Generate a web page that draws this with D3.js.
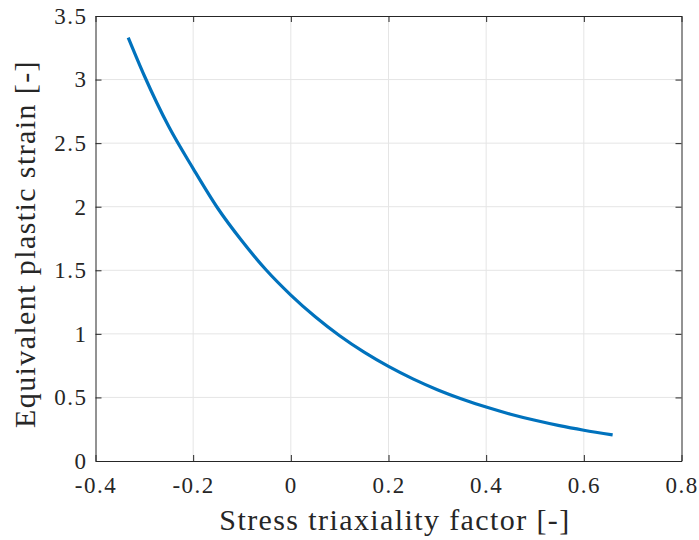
<!DOCTYPE html>
<html>
<head>
<meta charset="utf-8">
<script src="https://cdn.jsdelivr.net/npm/d3@7"></script>
<style>
  body { margin: 0; background: #fff; }
</style>
</head>
<body>
<div id="chart"></div>
<script>
// stress triaxiality values (x) and equivalent plastic strain (y)
const triax = [-0.333, -0.30, -0.25, -0.20, -0.15, -0.10, -0.05, 0, 0.05, 0.10, 0.15,
               0.20, 0.25, 0.30, 0.35, 0.40, 0.45, 0.50, 0.55, 0.60, 0.659];
const strain = [3.33, 3.03, 2.63, 2.30, 1.99, 1.73, 1.50, 1.305, 1.134, 0.985, 0.856,
                0.744, 0.646, 0.561, 0.488, 0.424, 0.368, 0.320, 0.278, 0.242, 0.205];
const xTicks = [-0.4, -0.2, 0, 0.2, 0.4, 0.6, 0.8];
const yTicks = [0, 0.5, 1, 1.5, 2, 2.5, 3, 3.5];

const width = 699, height = 540;
const margin = {top: 16, right: 17.5, bottom: 79, left: 95.5};
const font = "Liberation Serif, serif";

const xScale = d3.scaleLinear()
    .domain([-0.4, 0.8])
    .range([margin.left, width - margin.right]);

const yScale = d3.scaleLinear()
    .domain([0, 3.5])
    .range([height - margin.bottom, margin.top]);

const svg = d3.select("#chart")
    .append("svg")
    .attr("width", width)
    .attr("height", height);

// plain hyphen like matlab, not the unicode minus
const fmt = d => String(d);

// grid
svg.append("g")
    .selectAll("line")
    .data(xTicks.slice(1, -1))
    .join("line")
    .attr("x1", d => xScale(d)).attr("x2", d => xScale(d))
    .attr("y1", margin.top).attr("y2", height - margin.bottom)
    .attr("stroke", "#e5e5e5").attr("stroke-width", 1);

svg.append("g")
    .selectAll("line")
    .data(yTicks.slice(1, -1))
    .join("line")
    .attr("x1", margin.left).attr("x2", width - margin.right)
    .attr("y1", d => yScale(d)).attr("y2", d => yScale(d))
    .attr("stroke", "#e5e5e5").attr("stroke-width", 1);

// axes (box on, ticks inside)
const xAxis = svg.append("g")
    .attr("transform", `translate(0,${height - margin.bottom})`)
    .call(d3.axisBottom(xScale).tickValues(xTicks).tickFormat(fmt).tickSizeInner(-6).tickSizeOuter(0).tickPadding(16));

const xTop = svg.append("g")
    .attr("transform", `translate(0,${margin.top})`)
    .call(d3.axisTop(xScale).tickValues(xTicks).tickFormat("").tickSizeInner(-6).tickSizeOuter(0));

const yAxis = svg.append("g")
    .attr("transform", `translate(${margin.left},0)`)
    .call(d3.axisLeft(yScale).tickValues(yTicks).tickFormat(fmt).tickSizeInner(-6).tickSizeOuter(0).tickPadding(8));

const yRight = svg.append("g")
    .attr("transform", `translate(${width - margin.right},0)`)
    .call(d3.axisRight(yScale).tickValues(yTicks).tickFormat("").tickSizeInner(-6).tickSizeOuter(0));

[xAxis, xTop, yAxis, yRight].forEach(g => {
    g.attr("font-family", font).attr("font-size", 23);
    g.select(".domain").attr("stroke", "#262626").attr("stroke-width", 1);
    g.selectAll(".tick line").attr("stroke", "#262626");
    g.selectAll(".tick text").attr("fill", "#262626").attr("letter-spacing", 1.5);
});
xAxis.selectAll(".tick text").attr("dy", "0.71em");

// curve
const line = d3.line()
    .x((d, i) => xScale(triax[i]))
    .y(d => yScale(d))
    .curve(d3.curveMonotoneX);

svg.append("path")
    .datum(strain)
    .attr("d", line)
    .attr("fill", "none")
    .attr("stroke", "#0072BD")
    .attr("stroke-width", 3.2);

// labels
svg.append("text")
    .attr("x", 395)
    .attr("y", 530)
    .attr("text-anchor", "middle")
    .attr("font-family", font)
    .attr("font-size", 30)
    .attr("letter-spacing", 1.4)
    .attr("fill", "#262626")
    .text("Stress triaxiality factor [-]");

svg.append("text")
    .attr("transform", `translate(35,244) rotate(-90)`)
    .attr("text-anchor", "middle")
    .attr("font-family", font)
    .attr("font-size", 30)
    .attr("letter-spacing", 1.4)
    .attr("fill", "#262626")
    .text("Equivalent plastic strain [-]");
</script>
</body>
</html>
